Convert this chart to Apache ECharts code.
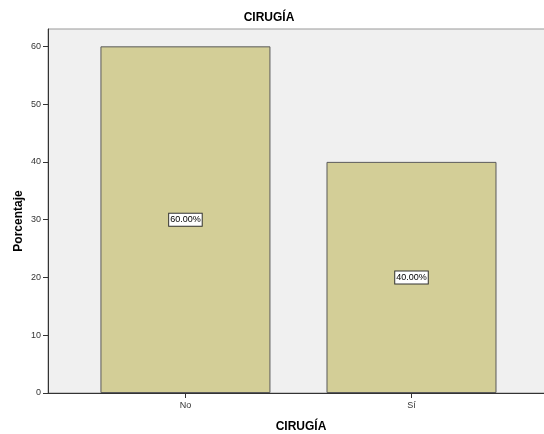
<!DOCTYPE html>
<html><head><meta charset="utf-8">
<script src="https://cdn.jsdelivr.net/npm/echarts@6/dist/echarts.min.js"></script>
<style>html,body{margin:0;padding:0;background:#fff}#c{width:544px;height:434px}</style>
</head><body><div id="c"></div>
<script>
const categories = ['No', 'Sí'];
const values = [60, 40];
const yTicks = [0, 10, 20, 30, 40, 50, 60];
const positions = categories.map((_, i) => i + 1);

const chart = echarts.init(document.getElementById('c'), null, {renderer: 'canvas'});
const font = 'Liberation Sans, Arial, sans-serif';
chart.setOption({
  animation: false,
  textStyle: {fontFamily: font},
  title: {text: 'CIRUGÍA', left: 264, textAlign: 'center', top: 7,
    textStyle: {fontSize: 12, fontWeight: 'bold', color: '#000', fontFamily: font}},
  grid: {left: 48, top: 29, right: -2, bottom: 41, show: true, backgroundColor: '#f0f0f0',
    borderColor: '#999', borderWidth: 1, containLabel: false, outerBoundsMode: 'none'},
  xAxis: {
    type: 'value', min: 0.392, max: 2.595,
    name: 'CIRUGÍA', nameLocation: 'middle', nameGap: 28, nameMoveOverlap: false,
    nameTextStyle: {fontSize: 12, fontWeight: 'bold', color: '#000', padding: [0, 0, 0, 8]},
    splitLine: {show: false},
    axisLine: {show: true, lineStyle: {color: '#333', width: 1}},
    axisTick: {show: true, inside: false, length: 5, lineStyle: {color: '#333'}, customValues: positions},
    axisLabel: {fontSize: 9, color: '#333', margin: 8, customValues: positions,
      formatter: v => categories[Math.round(v) - 1] || ''}
  },
  yAxis: {
    type: 'value', min: 0, max: 63,
    name: 'Porcentaje', nameLocation: 'middle', nameGap: 23, nameMoveOverlap: false,
    nameTextStyle: {fontSize: 12, fontWeight: 'bold', color: '#000', padding: [0, 20, 0, 0]},
    splitLine: {show: false},
    axisLine: {show: true, lineStyle: {color: '#333', width: 1}},
    axisTick: {show: true, inside: false, length: 5, lineStyle: {color: '#333'}, customValues: yTicks},
    axisLabel: {fontSize: 9, color: '#333', margin: 7, customValues: yTicks}
  },
  series: [{
    type: 'bar', barWidth: 170,
    data: values.map((v, i) => [positions[i], v]),
    itemStyle: {color: '#d3ce97', borderColor: '#5a5a5a', borderWidth: 1},
    label: {show: true, position: 'inside', formatter: p => p.value[1].toFixed(2) + '%',
      fontSize: 9, color: '#000', backgroundColor: '#fff', borderColor: '#333', borderWidth: 1,
      padding: [2, 1, 1, 1], fontFamily: font}
  }]
});
</script></body></html>
